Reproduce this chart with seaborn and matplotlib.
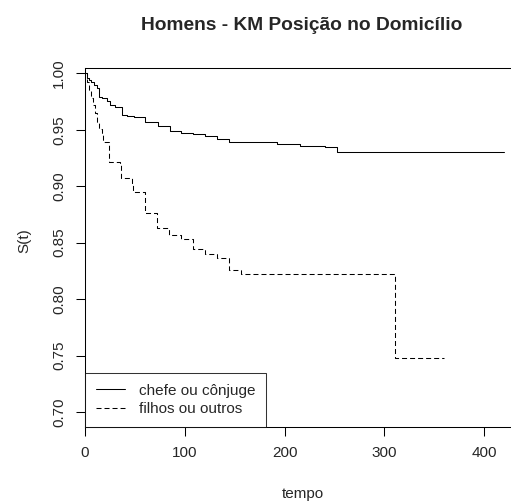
import matplotlib
matplotlib.use("Agg")
import matplotlib.pyplot as plt
import seaborn as sns
import pandas as pd

# Kaplan-Meier estimates (time, S(t))
chefe_tempo = [0, 2, 4, 6, 9, 12, 13.7, 17, 22, 25, 30, 37, 42, 49, 60, 73, 85, 96,
               108, 120, 132, 144, 192, 215, 240, 252, 420]
chefe_surv = [1.000, 0.996, 0.994, 0.992, 0.990, 0.987, 0.979, 0.978, 0.9755, 0.972,
              0.970, 0.963, 0.962, 0.961, 0.957, 0.953, 0.9485, 0.947, 0.946, 0.9445,
              0.9415, 0.939, 0.9375, 0.936, 0.935, 0.930, 0.930]

filhos_tempo = [0, 2, 4, 6, 8, 10, 12, 14, 17, 18.5, 24, 35, 36, 47, 48.5, 60, 72,
                84.5, 96, 108, 120, 132.6, 144.5, 156, 311, 360]
filhos_surv = [1.000, 0.992, 0.985, 0.978, 0.972, 0.965, 0.956, 0.951, 0.947, 0.939,
               0.9215, 0.9185, 0.907, 0.9026, 0.895, 0.8765, 0.863, 0.857, 0.8535,
               0.844, 0.8397, 0.836, 0.8255, 0.822, 0.7476, 0.7476]

grupos = ["chefe ou cônjuge", "filhos ou outros"]
titulo = "Homens - KM Posição no Domicílio"
xticks = [0, 100, 200, 300, 400]
yticks = [0.70, 0.75, 0.80, 0.85, 0.90, 0.95, 1.00]

sns.set_style("white")
plt.rcParams["font.family"] = ["Liberation Sans", "DejaVu Sans"]

fig = plt.figure(figsize=(5.11, 5.04), dpi=100)
# plot region runs slightly past the right edge (cropped like the original)
ax = fig.add_axes([85 / 511, 77 / 504, 436 / 511, 358.7 / 504])

df_chefe = pd.DataFrame({"tempo": chefe_tempo, "S": chefe_surv})
df_filhos = pd.DataFrame({"tempo": filhos_tempo, "S": filhos_surv})

sns.lineplot(data=df_chefe, x="tempo", y="S", drawstyle="steps-post", color="black",
             lw=0.75, estimator=None, sort=False, label=grupos[0], ax=ax)
sns.lineplot(data=df_filhos, x="tempo", y="S", drawstyle="steps-post", color="black",
             lw=0.75, estimator=None, sort=False, label=grupos[1], ax=ax,
             linestyle=(0, (4.8, 2.9)))

ax.set_xlim(0, 436.8)
ax.set_ylim(0.6867, 1.0044)
ax.set_xticks(xticks)
ax.set_yticks(yticks)
ax.set_yticklabels([f"{v:.2f}" for v in yticks])

for s in ax.spines.values():
    s.set_color("black")
    s.set_linewidth(0.75)

ax.tick_params(axis="both", direction="out", length=6.5, width=0.75, color="black",
               labelsize=11, pad=7, bottom=True, left=True)
ax.tick_params(axis="y", labelrotation=90)
for lab in ax.get_yticklabels():
    lab.set_verticalalignment("center")

ax.set_xlabel("tempo", fontsize=11)
ax.set_ylabel("S(t)", fontsize=11)
ax.xaxis.set_label_coords(0.5, -0.168)
ax.yaxis.set_label_coords(-0.122, 0.52)

leg = ax.legend(loc="lower left", bbox_to_anchor=(0, 0), borderaxespad=0,
                fontsize=11, frameon=True, fancybox=False, edgecolor="black",
                handlelength=1.9, handletextpad=0.95, borderpad=0.7,
                labelspacing=0.3)
leg.get_frame().set_linewidth(0.75)

fig.text(302 / 511, 1 - 30 / 504, titulo, ha="center", va="baseline",
         fontsize=13.8, fontweight="bold")

fig.savefig("out.png", dpi=100)
